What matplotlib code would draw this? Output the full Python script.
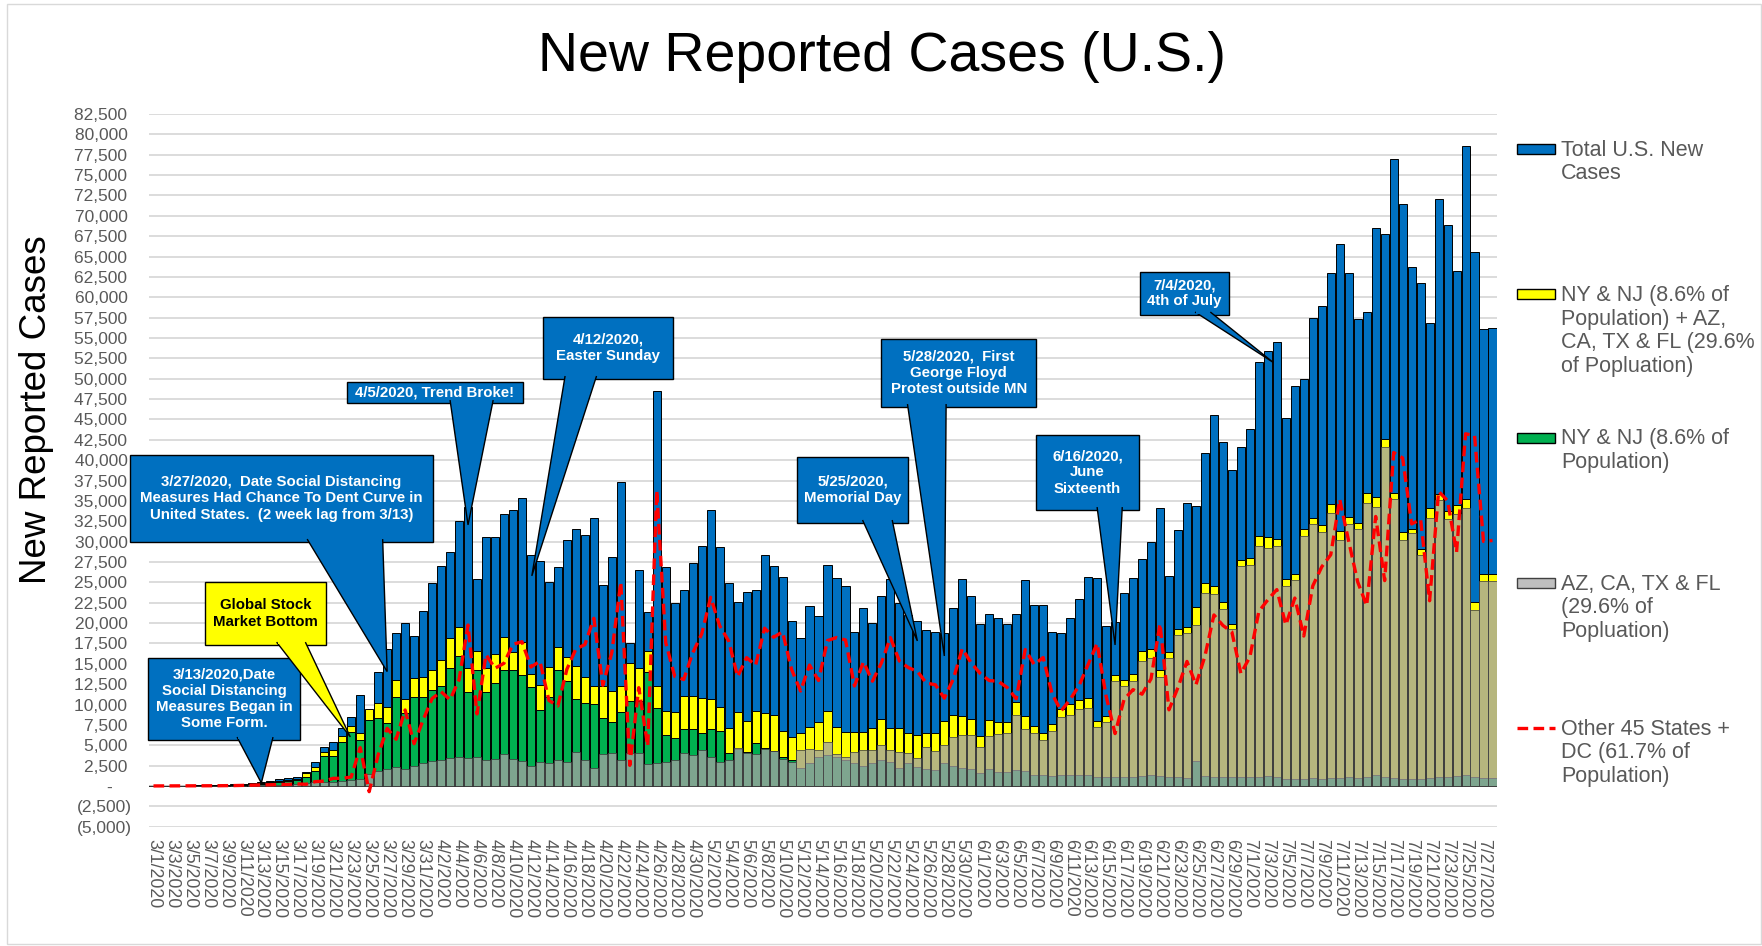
import datetime
import numpy as np
import matplotlib
matplotlib.use("Agg")
import matplotlib.pyplot as plt
from matplotlib.patches import Polygon, Rectangle
from matplotlib.lines import Line2D
from matplotlib.ticker import FuncFormatter, MultipleLocator

plt.rcParams['font.family'] = ['Liberation Sans', 'DejaVu Sans']

# categories: one bar per day, 3/1/2020 .. 7/28/2020
start = datetime.date(2020, 3, 1)
dates = [start + datetime.timedelta(days=k) for k in range(150)]
date_labels = [f"{d.month}/{d.day}/{d.year}" for d in dates]

total = [
    10, 15, 20, 30, 50, 60, 100, 110, 140, 200,
    280, 380, 500, 650, 820, 940, 1150, 1760, 2900, 4830,
    5360, 7080, 8510, 11180, 8750, 14040, 16820, 18750, 19980, 18420,
    21530, 24970, 27060, 28780, 32540, 34300, 25380, 30620, 30620, 33360,
    33890, 35410, 28330, 27670, 25090, 26940, 30210, 31600, 30780, 32870,
    24640, 28080, 37290, 17600, 26530, 21410, 48550, 26850, 22510, 24070,
    27340, 29500, 33890, 29350, 24970, 22530, 23780, 24070, 28370, 26980,
    25660, 20300, 18130, 22120, 20850, 27100, 25500, 24520, 18870, 21820,
    20020, 23290, 25380, 22500, 21000, 20300, 19100, 18900, 18800, 21850,
    25380, 23320, 19880, 21080, 20650, 19880, 21080, 25280, 22280, 22280,
    18850, 18730, 20650, 22920, 25710, 25500, 19580, 20100, 23650, 25540,
    27850, 29950, 34150, 25800, 31370, 34790, 34370, 40880, 45510, 42290,
    38740, 41590, 43790, 52060, 53380, 54470, 45210, 49050, 49920, 57490,
    58910, 63020, 66530, 63020, 57380, 58140, 68550, 67790, 76940, 71510,
    63680, 61760, 56830, 72060, 68830, 63180, 78530, 65600, 56060, 56170,
]

# NY & NJ + AZ, CA, TX & FL
combined = [
    5, 8, 10, 15, 30, 40, 70, 80, 100, 150,
    200, 280, 380, 500, 650, 740, 900, 1550, 2370, 4220,
    4420, 6140, 7410, 6470, 9450, 10230, 9740, 13020, 10650, 13230,
    13430, 14240, 15480, 18190, 19500, 14540, 16540, 14500, 16170, 18300,
    16500, 17700, 13730, 12350, 14590, 17110, 15880, 14780, 13430, 12280,
    12280, 11700, 12280, 15070, 14460, 16510, 12280, 9260, 9050, 11000,
    11000, 10850, 10730, 9680, 7170, 9100, 8020, 9250, 9000, 8720,
    6750, 5980, 6470, 7280, 7900, 9250, 7280, 6590, 6590, 6590,
    7160, 8190, 7160, 7160, 6470, 6230, 6470, 6470, 8020, 8720,
    8530, 8230, 6080, 8140, 7800, 7800, 10370, 8530, 7370, 6510,
    7580, 9510, 10030, 10580, 10800, 8010, 8530, 13670, 13030, 13710,
    16580, 16800, 14230, 16450, 19280, 19500, 21940, 24940, 24510, 22580,
    19840, 27780, 27950, 30630, 30520, 30360, 25430, 25980, 31510, 32930,
    32000, 34630, 31350, 32990, 32330, 36000, 35460, 42580, 36000, 31240,
    31510, 29040, 34090, 35890, 33810, 34470, 35290, 22580, 26030, 26030,
]

ny_nj = [
    2, 3, 4, 6, 20, 25, 50, 60, 70, 110,
    150, 210, 280, 380, 500, 560, 690, 1150, 1880, 3725,
    3680, 5440, 6590, 5650, 8100, 8400, 7690, 10970, 8920, 10970,
    10970, 11790, 12330, 14500, 16000, 11510, 14180, 11560, 12600, 14260,
    14260, 13570, 12170, 9330, 10970, 14180, 12890, 10690, 10150, 10030,
    8310, 7900, 9130, 10440, 10440, 14050, 9540, 6280, 5860, 7050,
    7050, 6470, 7000, 6780, 4090, 4600, 4210, 5240, 4620, 4340,
    3600, 3190, 2170, 2870, 3520, 3810, 3520, 3190, 2870, 2500,
    2780, 3190, 2990, 2170, 2780, 2380, 2050, 1960, 2870, 2460,
    2230, 2140, 1590, 2140, 1710, 1710, 1930, 1800, 1370, 1290,
    1240, 1370, 1370, 1370, 1370, 1160, 1070, 1070, 1070, 1160,
    1240, 1370, 1240, 1160, 1160, 1000, 3090, 1240, 1160, 1160,
    1100, 1100, 1100, 1150, 1200, 1100, 900, 800, 900, 1000,
    900, 1000, 1000, 1100, 1000, 1100, 1300, 1100, 1000, 900,
    800, 900, 1000, 1100, 1100, 1200, 1300, 1100, 1000, 1000,
]

az_ca_tx_fl = [
    3, 5, 6, 9, 10, 15, 20, 20, 30, 40,
    50, 70, 100, 120, 150, 180, 210, 330, 450, 450,
    530, 610, 740, 800, 1450, 1850, 2050, 2290, 2090, 2500,
    2780, 3070, 3150, 3480, 3560, 3480, 3560, 3150, 3275, 3970,
    3275, 3070, 2500, 2900, 2820, 3190, 2900, 4150, 3190, 2170,
    3950, 4070, 3190, 4000, 4070, 2660, 2780, 3000, 3190, 4040,
    3800, 4420, 3600, 3000, 3190, 4620, 4010, 3930, 4500, 4340,
    3270, 2990, 4420, 4500, 4420, 5360, 3930, 3520, 4210, 4420,
    4420, 5030, 4420, 4210, 4010, 3400, 4740, 4340, 5030, 6060,
    6300, 6300, 4800, 6170, 6340, 6510, 8660, 6940, 6510, 5660,
    6730, 8440, 8740, 9430, 9600, 7280, 7800, 12860, 12300, 12860,
    15380, 15730, 13370, 15730, 18510, 18810, 19710, 23650, 23570, 21720,
    19290, 26960, 27130, 29430, 29260, 29430, 24500, 25320, 30690, 32170,
    31240, 33540, 30250, 32170, 31510, 34800, 34250, 41650, 35180, 30250,
    31070, 28330, 32880, 35070, 32830, 33430, 34090, 21650, 25150, 25150,
]

other_states = [
    5, 7, 10, 15, 20, 20, 30, 30, 40, 50,
    80, 100, 120, 150, 170, 200, 250, 210, 530, 610,
    940, 940, 1100, 4710, -700, 3810, 7080, 5730, 9330, 5190,
    8100, 10730, 11580, 10590, 13040, 19760, 8840, 16120, 14450, 15060,
    17390, 17710, 14600, 15320, 10500, 9830, 14330, 16820, 17350, 20590,
    12360, 16380, 25010, 2530, 12070, 4900, 36270, 17590, 13460, 13070,
    16340, 18650, 23160, 19670, 17800, 13430, 15760, 14820, 19370, 18260,
    18910, 14320, 11660, 14840, 12950, 17850, 18220, 17930, 12280, 15230,
    12860, 15100, 18220, 15340, 14530, 14070, 12630, 12430, 10780, 13130,
    16850, 15090, 13800, 12940, 12850, 12080, 10710, 16750, 14910, 15770,
    11270, 9220, 10620, 12340, 14910, 17490, 11050, 6430, 10620, 11830,
    11270, 13150, 19920, 9350, 12090, 15290, 12430, 15940, 21000, 19710,
    18900, 13810, 15840, 21430, 22860, 24110, 19780, 23070, 18410, 24560,
    26910, 28390, 35180, 30030, 25050, 22140, 33090, 25210, 40940, 40270,
    32170, 32720, 22740, 36170, 35020, 28710, 43240, 43020, 30030, 30140,
]

BLUE = '#0070C0'
YELLOW = '#FFFF00'
GREEN = '#00B050'
GRAY = '#A2A2A2'
RED = '#FF0000'
TXT = '#595959'

W, H = 1762, 946
fig = plt.figure(figsize=(W / 100, H / 100), dpi=100)
ax = fig.add_axes([149 / W, 1 - 826.7 / H, (1497 - 149) / W, (826.7 - 114) / H])

x = np.arange(len(total))
bw = 0.9
ax.bar(x, total, bw, color=BLUE, edgecolor='black', linewidth=0.7, zorder=2)
ax.bar(x, combined, bw, color=YELLOW, edgecolor='black', linewidth=0.7, zorder=3)
ax.bar(x, ny_nj, bw, color=GREEN, edgecolor='black', linewidth=0.7, zorder=4)
ax.bar(x, az_ca_tx_fl, bw, color=GRAY, alpha=0.78, edgecolor='#404040', linewidth=0.7, zorder=5)
ax.plot(x, other_states, color=RED, linewidth=2.4, linestyle=(0, (3.2, 1.6)),
        solid_joinstyle='round', dash_joinstyle='round', zorder=6)

ax.set_xlim(-0.5, len(total) - 0.5)
ax.set_ylim(-5000, 82500)
ax.yaxis.set_major_locator(MultipleLocator(2500))


def acct(v, pos):
    if abs(v) < 1:
        return "-    "
    if v < 0:
        return f"({-v:,.0f})"
    return f"{v:,.0f} "


ax.yaxis.set_major_formatter(FuncFormatter(acct))
ax.grid(axis='y', color='#D9D9D9', linewidth=1.3, zorder=0)
ax.set_axisbelow(True)
ax.axhline(0, color='#BFBFBF', linewidth=1.2, zorder=1)
for s in ax.spines.values():
    s.set_visible(False)

ax.set_xticks(x[::2])
ax.set_xticklabels(date_labels[::2], rotation=270, fontsize=12.8, color=TXT)
ax.tick_params(axis='x', length=0, pad=9)
ax.tick_params(axis='y', length=0, pad=12, labelsize=12.5, labelcolor=TXT)

fig.text(882 / W, 1 - 57 / H, "New Reported Cases (U.S.)", fontsize=40,
         ha='center', va='center')
fig.text(37 / W, 1 - 410 / H, "New Reported Cases", fontsize=26.5,
         rotation=90, ha='center', va='center')


# callouts: box (x0, x1, y0, y1), pointer base (bx0, bx1), tip (tx, ty) in data units
def callout(text, box, base, tip, fc=BLUE, tc='white'):
    x0, x1, y0, y1 = box
    ax.add_patch(Rectangle((x0, y0), x1 - x0, y1 - y0, facecolor=fc,
                           edgecolor='black', linewidth=1.0, zorder=8, clip_on=False))
    lift = 350
    ax.add_patch(Polygon([(base[0], y0 + lift), tip, (base[1], y0 + lift)], closed=False,
                         facecolor=fc, edgecolor='black', linewidth=1.0, zorder=9,
                         clip_on=False))
    ax.add_patch(Rectangle((base[0] + 0.15, y0 + 80), base[1] - base[0] - 0.3, 600,
                           facecolor=fc, edgecolor='none', zorder=9.5, clip_on=False))
    ax.text((x0 + x1) / 2, (y0 + y1) / 2, text, color=tc, fontsize=10.8,
            fontweight='bold', ha='center', va='center', linespacing=1.2,
            zorder=10, clip_on=False)


callout("3/13/2020,Date\nSocial Distancing\nMeasures Began in\nSome Form.",
        (-0.6, 16.3, 5650, 15720), (9.3, 13.3), (12.0, 370))
callout("Global Stock\nMarket Bottom",
        (5.7, 19.2, 17310, 25050), (13.7, 16.9), (21.9, 6020), fc=YELLOW, tc='black')
callout("3/27/2020,  Date Social Distancing\nMeasures Had Chance To Dent Curve in\n"
        "United States.  (2 week lag from 3/13)",
        (-2.6, 31.1, 29960, 40650), (17.1, 25.5), (26.0, 14040))
callout("4/5/2020, Trend Broke!",
        (21.5, 41.1, 47030, 49610), (33.0, 37.8), (35.0, 32050))
callout("4/12/2020,\nEaster Sunday",
        (43.3, 57.8, 49980, 57590), (45.8, 49.3), (42.1, 25790))
callout("5/25/2020,\nMemorial Day",
        (71.6, 84.0, 32300, 40400), (78.9, 82.2), (85.0, 17810))
callout("5/28/2020,  First\nGeorge Floyd\nProtest outside MN",
        (81.0, 98.2, 46540, 54890), (83.9, 88.2), (88.0, 15960))
callout("6/16/2020,\nJune\nSixteenth",
        (98.2, 109.7, 33890, 43100), (105.0, 107.8), (107.0, 17310))
callout("7/4/2020,\n4th of July",
        (109.8, 119.7, 57840, 63120), (115.9, 117.6), (124.6, 52000))

# legend drawn at the right
legend_items = [
    ('patch', BLUE, 'black', "Total U.S. New\nCases", 149.5),
    ('patch', YELLOW, 'black', "NY & NJ (8.6% of\nPopulation) + AZ,\nCA, TX & FL (29.6%\nof Popluation)", 294),
    ('patch', GREEN, 'black', "NY & NJ (8.6% of\nPopulation)", 438),
    ('patch', '#BFBFBF', '#404040', "AZ, CA, TX & FL\n(29.6% of\nPopluation)", 583),
    ('line', RED, RED, "Other 45 States +\nDC (61.7% of\nPopulation)", 728),
]
lead = 24.7
for kind, fc, ec, label, yc in legend_items:
    if kind == 'patch':
        fig.add_artist(Rectangle((1517 / W, 1 - (yc + 5) / H), 38 / W, 10 / H,
                                 transform=fig.transFigure, facecolor=fc,
                                 edgecolor=ec, linewidth=1.0))
    else:
        fig.add_artist(Line2D([1517 / W, 1555 / W], [1 - yc / H, 1 - yc / H],
                              transform=fig.transFigure, color=fc, linewidth=2.4,
                              linestyle=(0, (3.2, 1.6))))
    n = label.count('\n') + 1
    ymid = yc + (n - 1) * lead / 2
    fig.text(1561 / W, 1 - ymid / H, label, fontsize=15.5, color=TXT,
             ha='left', va='center', linespacing=1.16)

# outer chart border
fig.add_artist(Rectangle((7 / W, 2 / H), (W - 8) / W, (H - 6) / H,
                         transform=fig.transFigure, facecolor='none',
                         edgecolor='#D9D9D9', linewidth=1.0))

fig.savefig("out.png", dpi=100)
